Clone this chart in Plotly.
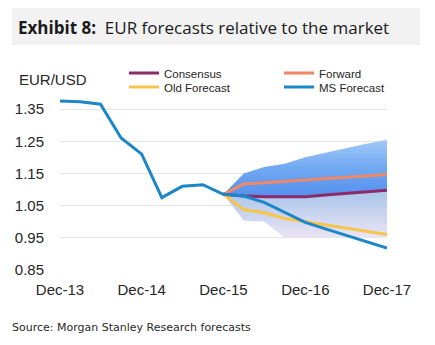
import plotly.graph_objects as go

hist_dates = ["2013-12-31", "2014-03-31", "2014-06-30", "2014-09-30", "2014-12-31",
              "2015-03-31", "2015-06-30", "2015-09-30", "2015-12-31"]
hist_values = [1.375, 1.373, 1.365, 1.26, 1.21, 1.075, 1.11, 1.115, 1.085]

fc_dates = ["2015-12-31", "2016-03-31", "2016-06-30", "2016-09-30", "2016-12-31",
            "2017-03-31", "2017-06-30", "2017-09-30", "2017-12-31"]
ms_forecast = [1.085, 1.08, 1.06, 1.028, 0.998, 0.978, 0.958, 0.94, 0.918]
old_forecast = [1.085, 1.038, 1.028, 1.01, 1.0, 0.99, 0.98, 0.97, 0.96]
forward = [1.085, 1.117, 1.121, 1.125, 1.129, 1.134, 1.138, 1.143, 1.147]
consensus = [1.085, 1.08, 1.078, 1.078, 1.078, 1.083, 1.088, 1.093, 1.098]
band_upper = [1.085, 1.15, 1.17, 1.18, 1.20, 1.215, 1.228, 1.242, 1.255]
band_lower = [1.085, 1.003, 1.0, 0.95, 0.95, 0.95, 0.95, 0.95, 0.95]

tick_dates = ["2013-12-31", "2014-12-31", "2015-12-31", "2016-12-31", "2017-12-31"]
tick_labels = ["Dec-13", "Dec-14", "Dec-15", "Dec-16", "Dec-17"]
y_ticks = [0.85, 0.95, 1.05, 1.15, 1.25, 1.35]

C_MS = "#1b87c8"
C_CONS = "#8c2a6c"
C_FWD = "#ee8866"
C_OLD = "#f6c54a"

fig = go.Figure()

# upper band: consensus -> upper
fig.add_trace(go.Scatter(x=fc_dates, y=consensus, mode="lines", line=dict(width=0),
                         showlegend=False, hoverinfo="skip"))
fig.add_trace(go.Scatter(x=fc_dates, y=band_upper, mode="lines", line=dict(width=0),
                         fill="tonexty",
                         fillgradient=dict(type="vertical", start=1.08, stop=1.26,
                                           colorscale=[[0, "#5590ed"], [0.5, "#72aaf2"], [1, "#a5cbf7"]]),
                         showlegend=False, hoverinfo="skip"))
# lower band: lower -> consensus
fig.add_trace(go.Scatter(x=fc_dates, y=band_lower, mode="lines", line=dict(width=0),
                         showlegend=False, hoverinfo="skip"))
fig.add_trace(go.Scatter(x=fc_dates, y=consensus, mode="lines", line=dict(width=0),
                         fill="tonexty",
                         fillgradient=dict(type="vertical", start=0.95, stop=1.08,
                                           colorscale=[[0, "#ebe5f4"], [1, "#b0c8ec"]]),
                         showlegend=False, hoverinfo="skip"))

fig.add_trace(go.Scatter(x=fc_dates, y=old_forecast, mode="lines", name="Old Forecast",
                         line=dict(color=C_OLD, width=3), legend="legend3"))
fig.add_trace(go.Scatter(x=fc_dates, y=forward, mode="lines", name="Forward",
                         line=dict(color=C_FWD, width=3), legend="legend2"))
fig.add_trace(go.Scatter(x=fc_dates, y=consensus, mode="lines", name="Consensus",
                         line=dict(color=C_CONS, width=3), legend="legend"))
fig.add_trace(go.Scatter(x=hist_dates + fc_dates[1:], y=hist_values + ms_forecast[1:],
                         mode="lines", name="MS Forecast",
                         line=dict(color=C_MS, width=3), legend="legend4"))

PL, PR, PT, PB = 60, 387, 93, 270
W, H = 435, 345


def px(xp):
    return (xp - PL) / (PR - PL)


def py(yp):
    return (PB - yp) / (PB - PT)


leg_font = dict(family="Liberation Sans, Arial", size=11.5, color="#262626")
common = dict(font=leg_font, bgcolor="rgba(0,0,0,0)", borderwidth=0,
              xanchor="left", yanchor="middle", itemwidth=30)

fig.update_layout(
    width=W, height=H,
    margin=dict(l=PL, r=W - PR, t=PT, b=H - PB),
    paper_bgcolor="white", plot_bgcolor="white",
    legend=dict(x=px(124), y=py(73), **common),
    legend2=dict(x=px(279), y=py(73), **common),
    legend3=dict(x=px(124), y=py(87), **common),
    legend4=dict(x=px(279), y=py(87), **common),
    xaxis=dict(type="date", range=["2013-12-31", "2017-12-31"],
               tickvals=tick_dates, ticktext=tick_labels,
               showgrid=False, zeroline=False, showline=False,
               ticks="outside", ticklen=6, tickcolor="rgba(0,0,0,0)",
               tickfont=dict(family="Liberation Sans, Arial", size=15, color="#262626")),
    yaxis=dict(range=[0.85, 1.40], tickvals=y_ticks, ticktext=[f"{v:.2f}" for v in y_ticks],
               showgrid=True, gridcolor="#e4e4e4", gridwidth=1,
               zeroline=False, showline=False,
               ticks="outside", ticklen=12, tickcolor="rgba(0,0,0,0)",
               tickfont=dict(family="Liberation Sans, Arial", size=15, color="#262626")),
    shapes=[dict(type="rect", xref="paper", yref="paper",
                 x0=px(12), x1=px(420), y0=py(45), y1=py(8),
                 fillcolor="#f2f2f2", line=dict(width=0), layer="below")],
    annotations=[
        dict(text="<b>Exhibit 8:</b>  EUR forecasts relative to the market",
             xref="paper", yref="paper", x=px(16), y=py(27), xanchor="left", yanchor="middle",
             showarrow=False, font=dict(family="Open Sans", size=17, color="#1a1a1a")),
        dict(text="EUR/USD", xref="paper", yref="paper", x=px(17), y=py(80),
             xanchor="left", yanchor="middle", showarrow=False,
             font=dict(family="Liberation Sans, Arial", size=15, color="#262626")),
        dict(text="Source: Morgan Stanley Research forecasts", xref="paper", yref="paper",
             x=px(10), y=py(327), xanchor="left", yanchor="middle", showarrow=False,
             font=dict(family="DejaVu Sans", size=11, color="#2a2a2a")),
    ],
)

fig.write_html("out.html")
